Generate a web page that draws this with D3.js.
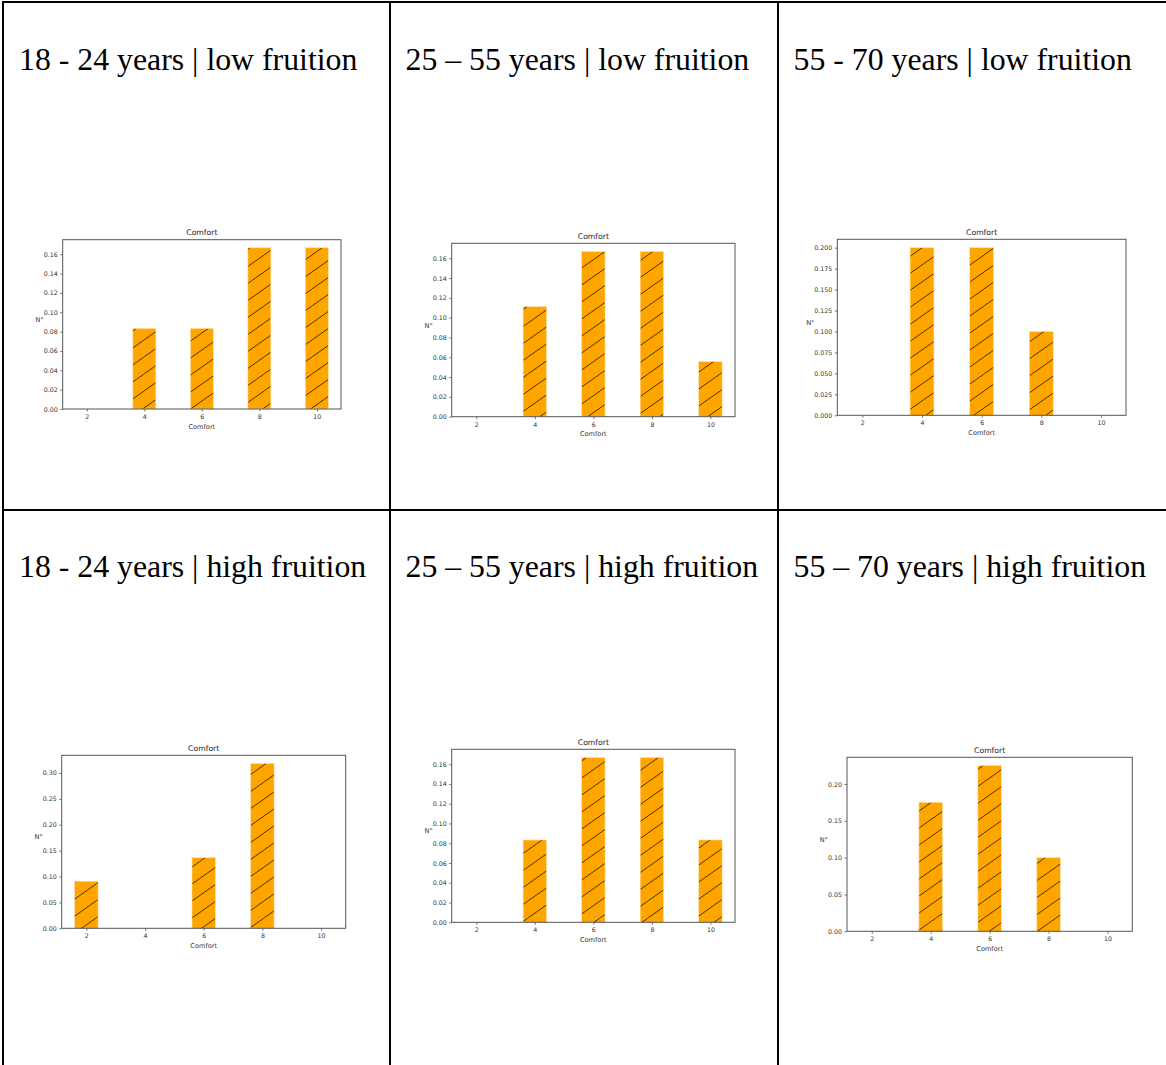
<!DOCTYPE html>
<html>
<head>
<meta charset="utf-8">
<script src="https://cdn.jsdelivr.net/npm/d3@7"></script>
<style>
  html, body { margin: 0; padding: 0; background: #fff; }
  svg { display: block; }
</style>
</head>
<body>
<script>
// Comfort score bins shared by every panel
const categories = [2, 4, 6, 8, 10];

// Cell headings (row by row)
const cellTitles = [
  "18 - 24 years | low fruition",
  "25 \u2013 55 years | low fruition",
  "55 - 70 years | low fruition",
  "18 - 24 years | high fruition",
  "25 \u2013 55 years | high fruition",
  "55 \u2013 70 years | high fruition"
];

// Normalised frequency of each comfort bin
const low18to24  = [0, 0.0833, 0.0833, 0.1667, 0.1667];
const low25to55  = [0, 0.1111, 0.1667, 0.1667, 0.0556];
const low55to70  = [0, 0.200, 0.200, 0.100, 0];
const high18to24 = [0.0909, 0, 0.1364, 0.3182, 0];
const high25to55 = [0, 0.0833, 0.1667, 0.1667, 0.0833];
const high55to70 = [0, 0.175, 0.225, 0.100, 0];

// Y tick labels per panel
const ticksSixteenths = [0, 0.02, 0.04, 0.06, 0.08, 0.10, 0.12, 0.14, 0.16];
const ticksQuarterSteps = [0, 0.025, 0.05, 0.075, 0.10, 0.125, 0.15, 0.175, 0.20];
const ticksThirty = [0, 0.05, 0.10, 0.15, 0.20, 0.25, 0.30];
const ticksTwenty = [0, 0.05, 0.10, 0.15, 0.20];

const chartTitle = "Comfort";
const xLabel = "Comfort";
const yLabel = "N\u00b0";

// Panels: data, ticks, and where each plot sits on the page
const panels = [
  { values: low18to24,  yTicks: ticksSixteenths,   fmt: ".2f", box: [62.7, 239.7, 341, 409] },
  { values: low25to55,  yTicks: ticksSixteenths,   fmt: ".2f", box: [451.7, 243.3, 735, 416.7] },
  { values: low55to70,  yTicks: ticksQuarterSteps, fmt: ".3f", box: [837.3, 239.3, 1126, 415.3] },
  { values: high18to24, yTicks: ticksThirty,       fmt: ".2f", box: [61.7, 755.3, 345.7, 928.3] },
  { values: high25to55, yTicks: ticksSixteenths,   fmt: ".2f", box: [451.7, 749.3, 735, 922.3] },
  { values: high55to70, yTicks: ticksTwenty,       fmt: ".2f", box: [847, 757.3, 1132.3, 931.3] }
];

const W = 1166, H = 1065;
const colX = [3, 390, 778];
const rowY = [2, 510];
const headingX = [19, 405.5, 793.5];
const headingBaseline = [69.5, 576.5];

const svg = d3.select("body").append("svg")
  .attr("width", W).attr("height", H);

// Diagonal hatch used on all bars
const defs = svg.append("defs");
const pat = defs.append("pattern")
  .attr("id", "hatch")
  .attr("patternUnits", "userSpaceOnUse")
  .attr("width", 24).attr("height", 17);
pat.append("rect").attr("width", 24).attr("height", 17).attr("fill", "#ffa500");
pat.selectAll("line").data([[-24, 17, 0, 0], [0, 17, 24, 0], [24, 17, 48, 0]])
  .join("line")
  .attr("x1", d => d[0]).attr("y1", d => d[1])
  .attr("x2", d => d[2]).attr("y2", d => d[3])
  .attr("stroke", "#2a1d00").attr("stroke-width", 1).attr("stroke-opacity", 0.85);

// Table grid
const grid = svg.append("g").attr("stroke", "#000").attr("stroke-width", 2);
colX.forEach(x => grid.append("line").attr("x1", x).attr("x2", x).attr("y1", 1).attr("y2", H));
rowY.forEach(y => grid.append("line").attr("x1", 2).attr("x2", W).attr("y1", y).attr("y2", y));

// Cell headings
cellTitles.forEach((t, i) => {
  svg.append("text")
    .attr("x", headingX[i % 3])
    .attr("y", headingBaseline[Math.floor(i / 3)])
    .attr("font-family", "'Liberation Serif', 'Times New Roman', serif")
    .attr("font-size", 31.8)
    .attr("fill", "#000")
    .text(t);
});

// Histogram panels
panels.forEach(p => {
  const [L, T, R, B] = p.box;
  const g = svg.append("g").attr("font-family", "'DejaVu Sans', sans-serif");

  const x = d3.scaleLinear().domain([1.16, 10.84]).range([L, R]);
  const y = d3.scaleLinear().domain([0, d3.max(p.values) * 1.05]).range([B, T]);

  const bars = categories.map((c, i) => ({ c, v: p.values[i] })).filter(d => d.v > 0);
  g.selectAll("rect.bar").data(bars).join("rect")
    .attr("class", "bar")
    .attr("x", d => x(d.c - 0.4))
    .attr("width", d => x(d.c + 0.4) - x(d.c - 0.4))
    .attr("y", d => y(d.v))
    .attr("height", d => y(0) - y(d.v))
    .attr("fill", "url(#hatch)")
    .attr("stroke", "#ffe2a6").attr("stroke-width", 0.6);

  const xAxis = g.append("g").attr("transform", `translate(0,${B})`)
    .call(d3.axisBottom(x).tickValues(categories).tickFormat(d3.format("d"))
      .tickSize(2.5).tickPadding(3));
  const yAxis = g.append("g").attr("transform", `translate(${L},0)`)
    .call(d3.axisLeft(y).tickValues(p.yTicks).tickFormat(d3.format(p.fmt))
      .tickSize(2.5).tickPadding(2.5));

  [xAxis, yAxis].forEach(a => {
    a.select(".domain").remove();
    a.selectAll(".tick line").attr("stroke", "#555").attr("stroke-width", 0.8);
    a.selectAll(".tick text").attr("fill", "#333").attr("font-size", 6.3)
      .attr("font-family", "'DejaVu Sans', sans-serif");
  });

  // Plot frame
  g.append("rect")
    .attr("x", L).attr("y", T).attr("width", R - L).attr("height", B - T)
    .attr("fill", "none").attr("stroke", "#555").attr("stroke-width", 1);

  g.append("text")
    .attr("x", (L + R) / 2).attr("y", T - 4.5)
    .attr("text-anchor", "middle").attr("font-size", 7.7).attr("fill", "#222")
    .text(chartTitle);

  g.append("text")
    .attr("x", (L + R) / 2).attr("y", B + 19.5)
    .attr("text-anchor", "middle").attr("font-size", 6.6).attr("fill", "#333")
    .text(xLabel);

  const yb = yAxis.node().getBBox();
  g.append("text")
    .attr("x", L + yb.x - 4).attr("y", (T + B) / 2 - 2.5)
    .attr("text-anchor", "middle").attr("font-size", 6.6).attr("fill", "#333")
    .text(yLabel);
});
</script>
</body>
</html>
